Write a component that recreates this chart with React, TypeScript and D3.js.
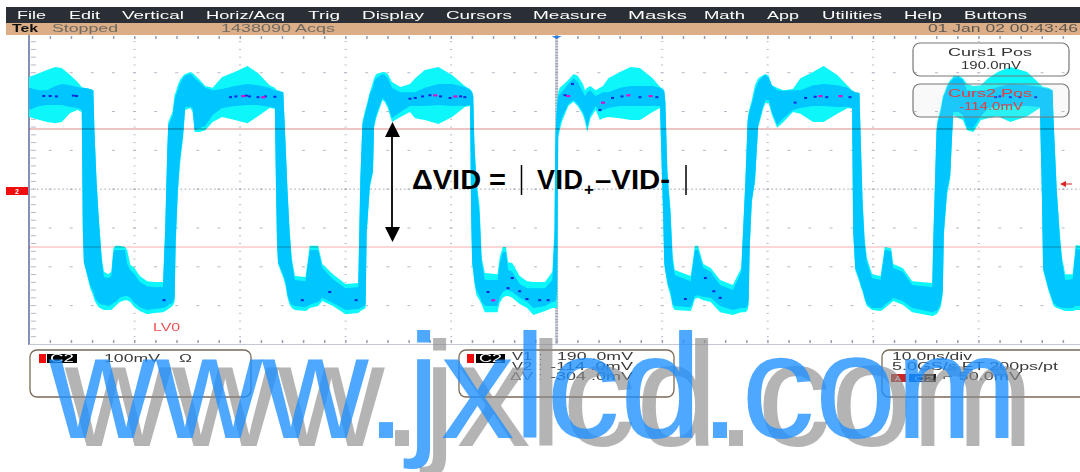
import React from 'react';
import * as d3 from 'd3';

type Row = [number, number, number, number, number];
// [time ns, outer top mV, inner top mV, inner bottom mV, outer bottom mV]

const cycle1: Row[] = [
  [0, 324, 296, 239, 221], [1.0, 334, 290, 249, 213], [1.7, 342, 290, 252, 208], [2.5, 350, 301, 252, 205],
  [3.1, 347, 306, 252, 208], [3.9, 329, 303, 247, 231], [4.6, 311, 298, 244, 239], [5.0, 298, 296, 239, 234],
  [5.1, 296, 296, -70, -70], [5.2, 296, 296, -153, -153], [5.8, 293, 293, -212, -220], [6.1, 290, 290, -230, -240],
  [6.2, 187, 187, -240, -251], [6.4, 59, 53, -251, -261], [6.6, -32, -39, -258, -269], [6.9, -142, -153, -263, -274],
  [7.1, -178, -191, -263, -276], [7.5, -184, -194, -266, -276], [7.8, -178, -189, -263, -276], [8.0, -117, -127, -258, -271],
  [8.2, -111, -122, -256, -266], [8.6, -111, -122, -245, -256], [9.1, -114, -122, -240, -251], [9.3, -122, -158, -240, -251],
  [9.6, -160, -173, -245, -256], [10.0, -168, -184, -258, -269], [10.5, -189, -204, -269, -279], [11.2, -202, -215, -276, -287],
  [11.9, -204, -217, -274, -284], [12.7, -204, -217, -271, -282], [12.9, -70, -75, -269, -279], [13.1, 136, 131, -266, -276],
  [13.2, 208, 200, -263, -274], [13.6, 234, 223, -258, -266], [13.8, 278, 265, -245, -256], [13.9, 285, 275, -96, -109],
  [14.1, 303, 290, 33, 20], [14.3, 316, 306, 110, 97], [14.6, 327, 321, 175, 167], [14.8, 332, 327, 247, 239],
  [15.3, 337, 332, 247, 244], [15.5, 334, 327, 244, 234], [15.7, 329, 321, 187, 182], [16.2, 316, 309, 193, 182],
  [16.7, 301, 296, 198, 187], [17.4, 296, 290, 226, 208], [18.3, 324, 293, 244, 221], [19.5, 337, 301, 249, 213],
  [20.7, 352, 306, 252, 205], [21.7, 334, 303, 252, 223], [22.8, 303, 296, 247, 244], [23.3, 296, 290, 244, 242],
];

const cycle2: Row[] = [
  [23.4, 293, 290, 59, 46], [23.5, 290, 288, -96, -101], [23.6, 290, 288, -153, -158], [24.1, 285, 285, -186, -194],
  [24.3, 162, 156, -204, -212], [24.5, 33, 28, -238, -245], [24.7, -70, -78, -256, -263], [24.9, -142, -153, -263, -271],
  [25.2, -189, -199, -266, -276], [26.2, -191, -202, -269, -279], [26.4, -153, -163, -266, -276], [26.6, -111, -122, -263, -271],
  [27.4, -111, -122, -256, -266], [27.8, -158, -168, -245, -253], [28.8, -184, -197, -258, -266], [30.0, -209, -220, -276, -287],
  [31.2, -207, -217, -274, -284], [31.3, -70, -83, -274, -282], [31.4, 64, 59, -271, -279], [31.6, 208, 203, -269, -276],
  [31.9, 244, 234, -263, -271], [32.0, 252, 244, -75, -83], [32.3, 285, 280, 46, 38], [32.6, 311, 296, 84, 79],
  [32.7, 321, 311, 200, 193], [32.9, 332, 321, 226, 218], [33.5, 337, 332, 270, 265], [33.7, 337, 329, 265, 260],
  [34.0, 332, 321, 252, 244], [34.4, 311, 296, 218, 208], [35.2, 298, 285, 234, 221], [36.1, 306, 285, 249, 234],
  [36.6, 321, 285, 249, 218], [37.5, 342, 296, 249, 213], [38.8, 350, 306, 252, 203], [40.1, 329, 306, 249, 221],
  [41.3, 301, 298, 249, 247], [41.8, 293, 290, 252, 249],
];

const cycle3: Row[] = [
  [41.9, 290, 288, -29, -39], [42.0, 285, 285, -153, -160], [42.1, 275, 275, -173, -178], [42.2, 162, 156, -199, -207],
  [42.4, 59, 46, -225, -238], [42.7, -8, -29, -240, -251], [42.9, -142, -153, -256, -263], [43.2, -181, -199, -266, -282],
  [44.4, -184, -199, -266, -282], [44.6, -142, -158, -245, -258], [44.9, -114, -127, -230, -245], [45.2, -114, -127, -225, -240],
  [45.4, -153, -173, -225, -240], [45.8, -155, -178, -230, -245], [46.5, -189, -209, -245, -261], [47.2, -202, -220, -256, -271],
  [47.8, -204, -220, -271, -289], [48.9, -204, -220, -266, -279], [49.6, -178, -199, -256, -271], [49.8, -70, -83, -256, -271],
  [49.87, 162, 136, -251, -271], [49.96, 226, 213, -251, -271], [50.05, 265, 252, -225, -271], [50.15, 285, 275, 175, 167],
  [50.3, 296, 280, 200, 187], [50.5, 301, 285, 218, 208], [51.1, 316, 306, 254, 249], [51.6, 332, 321, 265, 260],
  [52.0, 327, 311, 254, 249], [52.5, 306, 285, 234, 226], [52.7, 290, 275, 218, 208], [52.9, 296, 285, 193, 182],
  [53.2, 301, 290, 226, 218], [53.7, 290, 275, 249, 239], [54.1, 296, 280, 234, 213], [54.4, 301, 285, 239, 218],
  [54.9, 321, 285, 244, 221], [56.0, 337, 296, 249, 218], [57.0, 350, 301, 249, 213], [57.9, 347, 301, 249, 213],
  [59.1, 321, 301, 249, 234], [59.8, 298, 296, 249, 244],
];

const cycle4: Row[] = [
  [60.1, 293, 290, -34, -44], [60.2, 290, 288, -153, -160], [60.3, 265, 260, -173, -178], [60.5, 84, 71, -204, -212],
  [60.8, -19, -32, -230, -240], [61.0, -137, -153, -261, -269], [61.2, -173, -186, -266, -276], [62.7, -189, -202, -269, -279],
  [62.9, -153, -163, -256, -266], [63.1, -111, -122, -240, -248], [63.4, -111, -122, -238, -245], [63.9, -158, -168, -243, -251],
  [64.6, -168, -178, -245, -256], [65.5, -199, -212, -266, -282], [66.7, -212, -225, -276, -289], [67.5, -168, -178, -271, -282],
  [67.9, 64, 59, -271, -282], [68.1, 213, 208, -266, -276], [68.2, 234, 226, -251, -263], [68.3, 244, 239, -109, -117],
  [68.5, 265, 254, 7, 2], [68.8, 303, 290, 59, 53], [69.1, 321, 311, 200, 193], [69.6, 329, 327, 252, 244],
  [69.8, 332, 329, 265, 257], [70.1, 327, 321, 265, 257], [70.4, 303, 303, 234, 226], [70.9, 296, 290, 200, 193],
  [71.5, 290, 288, 218, 208], [72.4, 293, 290, 239, 234], [73.1, 321, 290, 244, 229], [74.3, 337, 303, 249, 208],
  [75.3, 352, 306, 249, 208], [76.6, 329, 303, 247, 229], [77.6, 301, 296, 247, 244], [78.0, 290, 288, 244, 242],
];

const cycle5: Row[] = [
  [78.1, 288, 288, -70, -75], [78.3, 285, 285, -168, -173], [78.7, 283, 283, -199, -204], [78.8, 187, 182, -209, -215],
  [79.0, 7, -6, -225, -230], [79.2, -96, -109, -245, -251], [79.4, -142, -153, -261, -266], [79.9, -184, -194, -271, -276],
  [80.7, -189, -199, -271, -279], [80.9, -153, -160, -269, -276], [81.1, -114, -122, -263, -271], [81.7, -117, -124, -251, -258],
  [81.9, -158, -168, -245, -253], [82.8, -168, -178, -253, -263], [83.7, -202, -212, -271, -282], [85.6, -207, -217, -282, -292],
  [85.7, -83, -96, -282, -292], [85.8, 7, -6, -279, -289], [86.0, 187, 182, -279, -287], [86.1, 211, 205, -276, -284],
  [86.4, 244, 234, -261, -269], [86.6, 275, 265, -225, -235], [86.7, 280, 275, -75, -83], [87.0, 303, 296, 33, 20],
  [87.3, 316, 311, 71, 64], [87.5, 321, 316, 187, 182], [87.6, 327, 321, 234, 226], [88.1, 327, 324, 234, 218],
  [88.5, 321, 316, 226, 213], [88.9, 306, 290, 193, 187], [89.5, 301, 288, 193, 182], [90.2, 303, 290, 223, 213],
  [90.9, 321, 290, 244, 218], [91.8, 337, 298, 249, 223], [93.0, 350, 306, 249, 208], [94.6, 337, 303, 249, 223],
  [95.8, 306, 298, 247, 244],
];

const cycle6: Row[] = [
  [96.0, 301, 296, 7, 2], [96.1, 298, 296, -168, -173], [96.6, 296, 293, -220, -225], [97.0, 290, 290, -251, -258],
  [97.1, 213, 208, -258, -266], [97.4, 33, 28, -266, -271], [97.7, -83, -96, -269, -274], [97.9, -142, -153, -271, -276],
  [98.2, -184, -199, -271, -279], [98.9, -184, -197, -271, -279], [99.2, -109, -117, -266, -276], [99.6, -111, -122, -266, -276],
];

// highest density hits: [time ns, mV]
const blueHits: [number, number][] = [
  [1.4, 275], [2.0, 275], [2.6, 274], [4.2, 276], [4.5, 275],
  [19.1, 272], [19.6, 274], [20.6, 276], [20.9, 274], [21.7, 272], [22.4, 274], [23.3, 273],
  [36.1, 268], [36.6, 270], [37.3, 274], [38.0, 277], [39.0, 274], [39.9, 270], [40.9, 274], [41.3, 272],
  [50.8, 277], [51.5, 306], [54.1, 239], [55.3, 270], [56.2, 274], [57.9, 272], [59.5, 272],
  [72.6, 258], [73.6, 270], [74.5, 273], [75.6, 272], [77.8, 272],
  [91.6, 272], [92.0, 274], [93.0, 272], [93.9, 272], [95.4, 272],
  [25.9, -251], [28.5, -230], [31.0, -251], [12.8, -251],
  [43.5, -230], [45.4, -220], [45.8, -194], [46.5, -228], [47.2, -248], [48.4, -251], [49.2, -251],
  [62.2, -248], [64.1, -194], [64.9, -228], [65.5, -245],
];
const magentaHits: [number, number][] = [
  [20.3, 275], [22.2, 272], [38.5, 277], [40.4, 274], [51.1, 275], [54.4, 258],
  [56.8, 277], [58.9, 275], [75.0, 275], [76.9, 275], [44.0, -251],
];

const menuLabels = ['File', 'Edit', 'Vertical', 'Horiz/Acq', 'Trig', 'Display', 'Cursors', 'Measure', 'Masks', 'Math', 'App', 'Utilities', 'Help', 'Buttons'];
const menuStart = [17, 69, 122, 206, 308, 362, 446, 533, 628, 704, 767, 822, 904, 964];
const menuWidth = [29, 31, 62, 79, 32, 62, 66, 74, 59, 41, 32, 60, 38, 63];

const W = 1080;
const H = 472;
const timeDivs = d3.range(1, 10).map(d => d * 10);
const voltDivs = d3.range(-4, 5).map(d => 35 + d * 100);
const cursor1 = 190;
const cursor2 = -114;

const x = d3.scaleLinear().domain([0, 99.6]).range([29, 1080]);
const y = d3.scaleLinear().domain([-114, 190]).range([247, 129]);

const trace = [...cycle1, ...cycle2, ...cycle3, ...cycle4, ...cycle5, ...cycle6];

const outerBand = d3.area<Row>().x(d => x(d[0])).y0(d => y(d[4])).y1(d => y(d[1]));
const innerBand = d3.area<Row>().x(d => x(d[0])).y0(d => y(d[3])).y1(d => y(d[2]));

const menuFont = '"Liberation Sans", Arial, sans-serif';

// glyph origins of the watermark, it sits a little tighter than the font's own spacing
const markGlyphs = [49, 156, 262, 365.6, 407.3, 440.7, 513.4, 546.2, 620, 699.6, 741.2, 814.7, 895.3];
const markAt = (dx: number) => markGlyphs.map(g => g + dx).join(' ');

const Label: React.FC<{ at: number; top: number; len?: number; fill?: string; size?: number; weight?: string; anchor?: string; children: React.ReactNode }> = ({ at, top, len, fill = '#3a3a3a', size = 11, weight = 'normal', anchor = 'start', children }) => (
  <text x={at} y={top} fontSize={size} fontWeight={weight} fill={fill} textAnchor={anchor} fontFamily={menuFont}
    {...(len ? { textLength: len, lengthAdjust: 'spacingAndGlyphs' } : {})}>{children}</text>
);

const App: React.FC = () => {
  const hMinor = d3.range(0, 100, 2);
  const vMinor = d3.range(-365, 436, 20);
  const dotFill = '#b4b8c8';

  return (
    <svg width={W} height={H} viewBox={`0 0 ${W} ${H}`} style={{ position: 'fixed', left: 0, top: 0, background: '#fff' }}>
      <defs>
        <filter id="soft" x="-2%" y="-2%" width="104%" height="104%"><feGaussianBlur stdDeviation="0.35" /></filter>
        <clipPath id="plot"><rect x={29} y={35} width={1051} height={310} /></clipPath>
      </defs>

      <g filter="url(#soft)">
        {/* menu bar */}
        <rect x={6} y={7} width={1074} height={16} fill="#2b2e34" />
        <rect x={6} y={23} width={1074} height={12} fill="#dbae88" />
        {menuLabels.map((m, i) => (
          <Label key={m} at={menuStart[i]} top={19} len={menuWidth[i]} fill="#fff" size={11.5}>{m}</Label>
        ))}
        <Label at={12} top={32} len={26} fill="#111" weight="bold" size={10}>Tek</Label>
        <Label at={52} top={32} len={66} fill="#6e6a60" size={10.5}>Stopped</Label>
        <Label at={221} top={32} len={114} fill="#6e6a60" size={10.5}>1438090 Acqs</Label>
        <Label at={928} top={32} len={150} fill="#5c574f" size={10.5}>01 Jan 02 00:43:46</Label>

        {/* graticule */}
        <g clipPath="url(#plot)">
          {voltDivs.map(v => hMinor.map(t => (
            <rect key={`h${v}-${t}`} x={x(t) - 1.5} y={y(v) - 0.5} width={3} height={1} fill={dotFill} />
          )))}
          {timeDivs.map(t => vMinor.map(v => (
            <rect key={`v${t}-${v}`} x={x(t) - 1} y={y(v) - 0.5} width={2} height={1} fill={dotFill} />
          )))}
          {d3.range(0, 100, 0.4).map(t => (
            <rect key={`c${t}`} x={x(t) - 0.5} y={y(35) - 0.5} width={1.5} height={1} fill="#9a9eb0" />
          ))}
          {d3.range(-365, 436, 4).map(v => (
            <rect key={`m${v}`} x={x(50) - 1.5} y={y(v) - 0.5} width={3} height={1} fill="#9a9eb0" />
          ))}
          {vMinor.map(v => <rect key={`l${v}`} x={31} y={y(v) - 0.5} width={5} height={1} fill={dotFill} />)}
          {hMinor.map(t => <rect key={`t${t}`} x={x(t) - 0.5} y={36} width={1.5} height={3} fill="#9a9eb0" />)}
          {hMinor.map(t => <rect key={`b${t}`} x={x(t) - 0.5} y={340} width={1.5} height={3} fill="#9a9eb0" />)}
        </g>
        <rect x={28} y={35} width={2} height={310} fill="#8790b0" />
        <rect x={29} y={344} width={1051} height={1} fill="#c3c7d6" />

        {/* persistence trace */}
        <g clipPath="url(#plot)">
          <path d={outerBand(trace) ?? ''} fill="#0ff6fa" />
          <path d={innerBand(trace) ?? ''} fill="#00c6ff" />
          {blueHits.map(([t, v], i) => (
            <rect key={`bh${i}`} x={x(t) - 1.5} y={y(v) - 1} width={3} height={2} fill="#1428e0" />
          ))}
          {magentaHits.map(([t, v], i) => (
            <rect key={`mh${i}`} x={x(t) - 2} y={y(v) - 1} width={4} height={2.2} fill="#e010c8" />
          ))}
        </g>

        {/* cursors */}
        <line x1={29} x2={W} y1={y(cursor1)} y2={y(cursor1)} stroke="#d98a8a" strokeWidth={1} style={{ mixBlendMode: 'multiply' }} />
        <line x1={29} x2={W} y1={y(cursor2)} y2={y(cursor2)} stroke="#f7b0b0" strokeWidth={1} style={{ mixBlendMode: 'multiply' }} />

        {/* channel and trigger markers */}
        <rect x={6} y={187} width={22} height={8} fill="#f01010" />
        <Label at={17} top={194} fill="#fff" size={7} anchor="middle" weight="bold">2</Label>
        <path d={`M${x(50)},39 l-5,-3 h10 z`} fill="#2a7fe0" />
        <path d="M1060,184 l6,-3 v6 z M1066,183.5 h6 v1 h-6 z" fill="#e02020" />
        <Label at={153} top={331} len={27} fill="#f05050" size={10}>LV0</Label>

        {/* cursor readouts */}
        <rect x={913} y={43} width={156} height={33} rx={7} fill="none" stroke="#777" strokeWidth={1.2} />
        <Label at={948} top={56} len={84} fill="#333" size={10.5}>Curs1 Pos</Label>
        <Label at={961} top={69} len={60} fill="#333" size={10.5}>190.0mV</Label>
        <rect x={913} y={84} width={156} height={33} rx={7} fill="#d8d8d8" fillOpacity={0.14} stroke="#777" strokeWidth={1.2} />
        <Label at={948} top={97} len={84} fill="#e83a3a" size={10.5}>Curs2 Pos</Label>
        <Label at={959} top={110} len={64} fill="#e83a3a" size={10.5}>-114.0mV</Label>

        {/* status boxes */}
        <rect x={30} y={350} width={221} height={47} rx={7} fill="none" stroke="#7a6a58" strokeWidth={1.3} />
        <rect x={39} y={354} width={7} height={9} fill="#f01010" />
        <rect x={47} y={354} width={30} height={9} fill="#000" />
        <Label at={50} top={362} len={24} fill="#fff" size={10}>C2</Label>
        <Label at={104} top={362} len={56} size={11}>100mV</Label>
        <Label at={179} top={362} len={13} size={11}>Ω</Label>

        <rect x={459} y={350} width={215} height={47} rx={7} fill="none" stroke="#7a6a58" strokeWidth={1.3} />
        <rect x={467} y={354} width={7} height={9} fill="#f01010" />
        <rect x={476} y={354} width={29} height={9} fill="#000" />
        <Label at={479} top={362} len={23} fill="#fff" size={10}>C2</Label>
        <Label at={512} top={360} len={20} size={10.5}>V1</Label>
        <Label at={539} top={360} size={10.5}>:</Label>
        <Label at={557} top={360} len={76} size={10.5}>190 .0mV</Label>
        <Label at={512} top={370} len={20} size={10.5}>V2</Label>
        <Label at={539} top={370} size={10.5}>:</Label>
        <Label at={550} top={370} len={83} size={10.5}>-114 .0mV</Label>
        <Label at={510} top={380} len={23} fill="#777" size={10.5}>ΔV</Label>
        <Label at={539} top={380} size={10.5} fill="#777">:</Label>
        <Label at={550} top={380} len={83} size={10.5}>-304 .0mV</Label>

        <path d="M1080,350 H889 a7,7 0 0 0 -7,7 V390 a7,7 0 0 0 7,7 H1080" fill="none" stroke="#7a6a58" strokeWidth={1.3} />
        <Label at={892} top={360} len={80} size={10.5}>10.0ns/div</Label>
        <Label at={892} top={370} len={166} size={10.5}>5.0GS/s ET 200ps/pt</Label>
        <rect x={891} y={374} width={15} height={8} fill="#c82828" />
        <Label at={895} top={381} fill="#fff" size={8}>A</Label>
        <rect x={909} y={374} width={16} height={8} fill="#0050b0" />
        <rect x={925} y={374} width={11} height={8} fill="#222" />
        <Label at={914} top={381} len={20} fill="#ddd" size={8}>C2</Label>
        <Label at={943} top={380} len={78} size={10.5}>⌐ 50.0mV</Label>
      </g>

      {/* overlay note */}
      <line x1={x(34.4)} x2={x(34.4)} y1={130} y2={234} stroke="#000" strokeWidth={1.8} />
      <path d="M385,137 L392.5,122 L400,137 Z M385,227 L392.5,242 L400,227 Z" fill="#000" />
      <g fontFamily={menuFont} fontWeight="bold" fontSize={27} fill="#000">
        <text x={412} y={188.5} textLength={94} lengthAdjust="spacingAndGlyphs">ΔVID =</text>
        <text x={537} y={188.5} textLength={46}>VID</text>
        <text x={584} y={195} fontSize={17}>+</text>
        <text x={595} y={188.5} textLength={75} lengthAdjust="spacingAndGlyphs">–VID-</text>
      </g>
      <line x1={521.5} x2={521.5} y1={165} y2={195} stroke="#000" strokeWidth={1.5} />
      <line x1={686} x2={686} y1={165} y2={195} stroke="#000" strokeWidth={1.5} />

      {/* watermark */}
      <g fontFamily={menuFont} fontSize={147.5} style={{ fontKerning: 'none' }}>
        <text x={markAt(16)} y={446} fill="#8c8c8c" fillOpacity={0.65}>www.jxlcd.com</text>
        <text x={markAt(0)} y={438} fill="#1e8fff" fillOpacity={0.78}>www.jxlcd.com</text>
      </g>
    </svg>
  );
};

export default App;
